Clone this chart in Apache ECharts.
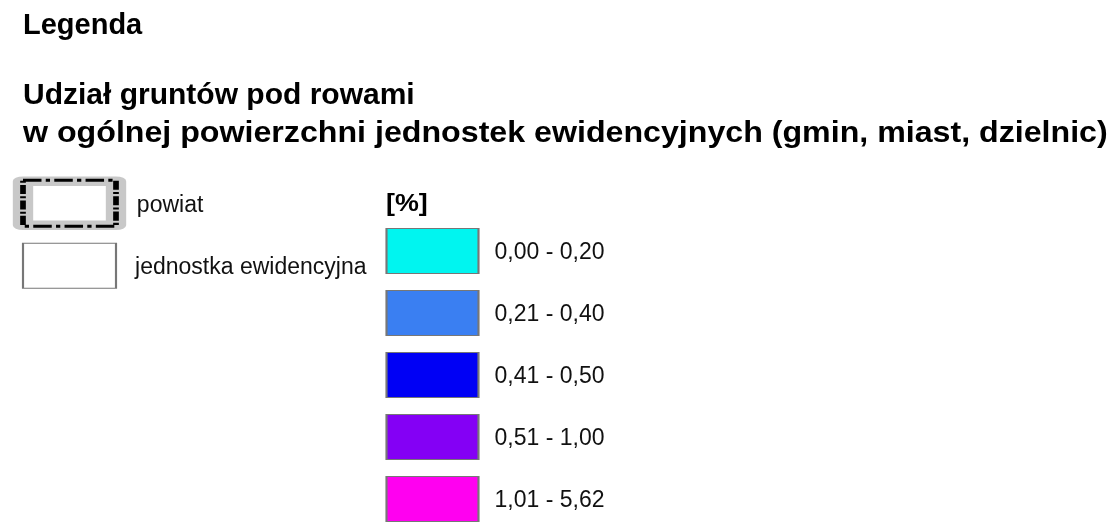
<!DOCTYPE html>
<html lang="pl">
<head>
  <meta charset="UTF-8">
  <title>Legenda - udział gruntów pod rowami</title>
  <script src="https://cdn.jsdelivr.net/npm/echarts@6.0.0/dist/echarts.min.js"></script>
  <style>
    html, body { margin: 0; padding: 0; background: #fff; }
    #main { width: 1113px; height: 530px; }
  </style>
</head>
<body>
  <div id="main"></div>
  <script>
    // klasy legendy (przedziały udziału w %)
    const klasy = ['0,00 - 0,20', '0,21 - 0,40', '0,41 - 0,50', '0,51 - 1,00', '1,01 - 5,62'];
    const kolory = ['#00f5f0', '#3a7ff2', '#0000f5', '#8400f5', '#ff00f0'];

    // granice administracyjne
    const granice = ['powiat', 'jednostka ewidencyjna'];

    const font = '"Liberation Sans", Arial, sans-serif';

    var myChart = echarts.init(document.getElementById('main'), null, { renderer: 'canvas' });

    var option = {
      backgroundColor: '#fff',
      animation: false,
      graphic: [
        { type: 'text', x: 23, y: 26, style: { text: 'Legenda', font: 'bold 29px ' + font, fill: '#000', verticalAlign: 'middle' } },
        { type: 'text', x: 23, y: 96, style: { text: 'Udział gruntów pod rowami', font: 'bold 30px ' + font, fill: '#000', verticalAlign: 'middle' } },
        { type: 'text', x: 23, y: 134, scaleX: 1.072, style: { text: 'w ogólnej powierzchni jednostek ewidencyjnych (gmin, miast, dzielnic)', font: 'bold 30px ' + font, fill: '#000', verticalAlign: 'middle' } },
        { type: 'text', x: 386, y: 204, scaleX: 1.12, style: { text: '[%]', font: 'bold 24px ' + font, fill: '#000', verticalAlign: 'middle' } }
      ],
      grid: [
        { left: 386, width: 93, top: 220, height: 310 },
        { left: 23, width: 93, top: 172, height: 125 }
      ],
      xAxis: [
        { type: 'category', gridIndex: 0, data: ['klasa'], show: false },
        { type: 'category', gridIndex: 1, data: ['granica'], show: false }
      ],
      yAxis: [
        { type: 'category', gridIndex: 0, data: klasy, inverse: true, show: false },
        { type: 'category', gridIndex: 1, data: granice, inverse: true, show: false }
      ],
      series: [
        {
          name: 'klasy',
          type: 'scatter',
          xAxisIndex: 0,
          yAxisIndex: 0,
          symbol: 'rect',
          symbolSize: [92, 45],
          data: klasy.map((k, i) => ({
            value: ['klasa', k],
            itemStyle: { color: kolory[i], borderColor: '#777', borderWidth: 1.5, opacity: 1 }
          })),
          label: {
            show: true,
            position: 'right',
            distance: 15,
            formatter: p => p.value[1],
            fontFamily: font,
            fontSize: 23,
            color: '#111',
            offset: [0, 2]
          },
          emphasis: { disabled: true }
        },
        // szara obwódka powiatu
        {
          name: 'powiat-tlo',
          type: 'scatter',
          xAxisIndex: 1,
          yAxisIndex: 1,
          symbol: 'rect',
          symbolSize: [93, 44],
          data: [{
            value: ['granica', granice[0]],
            itemStyle: { color: '#fff', borderColor: '#c8c8c8', borderWidth: 14, borderJoin: 'round', opacity: 1 }
          }],
          emphasis: { disabled: true },
          z: 2
        },
        // linia granicy powiatu + jednostka ewidencyjna
        {
          name: 'granice',
          type: 'scatter',
          xAxisIndex: 1,
          yAxisIndex: 1,
          symbol: 'rect',
          data: [
            {
              value: ['granica', granice[0]],
              symbolSize: [93, 46],
              itemStyle: { color: 'rgba(0,0,0,0)', borderColor: '#000', borderWidth: 4, borderType: [13, 3, 3, 3], opacity: 1 }
            },
            {
              value: ['granica', granice[1]],
              symbolSize: [93, 45],
              itemStyle: { color: '#fff', borderColor: '#777', borderWidth: 1.5, opacity: 1 }
            }
          ],
          label: {
            show: true,
            position: 'right',
            distance: 18,
            formatter: p => p.value[1],
            fontFamily: font,
            fontSize: 23,
            color: '#111',
            offset: [0, 2]
          },
          emphasis: { disabled: true },
          z: 3
        }
      ]
    };

    myChart.setOption(option);
  </script>
</body>
</html>
